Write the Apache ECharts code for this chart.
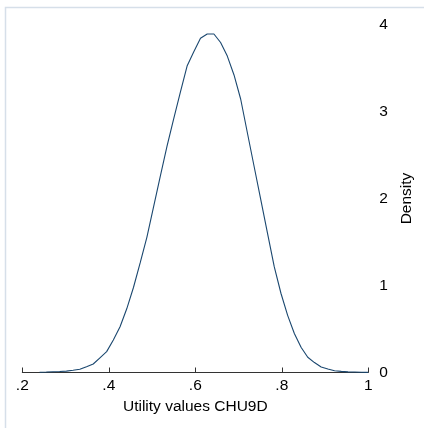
<!DOCTYPE html>
<html>
<head>
<meta charset="utf-8">
<script src="https://cdn.jsdelivr.net/npm/echarts@6/dist/echarts.min.js"></script>
<style>
  html, body { margin: 0; padding: 0; background: #fff; }
  #chart { width: 424px; height: 428px; }
</style>
</head>
<body>
<div id="chart"></div>
<script>
// kernel density estimate, 50 evaluation points from .24 to 1
const xStart = 0.24
const xStep = 0.0155
const density = [
  0.003, 0.005, 0.008, 0.011, 0.016, 0.025, 0.037, 0.067, 0.098, 0.169,
  0.240, 0.374, 0.526, 0.732, 0.977, 1.259, 1.554, 1.903, 2.253, 2.600,
  2.916, 3.223, 3.522, 3.686, 3.842, 3.891, 3.891, 3.793, 3.637, 3.420,
  3.141, 2.753, 2.368, 1.983, 1.598, 1.216, 0.911, 0.657, 0.449, 0.291,
  0.175, 0.114, 0.063, 0.040, 0.020, 0.013, 0.007, 0.005, 0.003, 0.002
]
const xTicks = [0.2, 0.4, 0.6, 0.8, 1]
const xTickLabels = ['.2', '.4', '.6', '.8', '1']
const yTicks = [0, 1, 2, 3, 4]

const points = density.map((d, i) => [xStart + i * xStep, d])
const font = '"Liberation Sans", Arial, sans-serif'
const fs = 15.5

const chart = echarts.init(document.getElementById('chart'))
chart.setOption({
  animation: false,
  backgroundColor: '#fff',
  textStyle: { fontFamily: font },
  graphic: [
    {
      type: 'rect',
      shape: { x: 5.5, y: 7.5, width: 440, height: 440 },
      style: { fill: 'none', stroke: '#d6dfe9', lineWidth: 1.5 },
      silent: true
    }
  ],
  grid: {
    left: 22.3,
    right: 55.7,
    top: 24.5,
    bottom: 55.5
  },
  xAxis: {
    type: 'value',
    min: xTicks[0],
    max: xTicks[xTicks.length - 1],
    interval: 0.2,
    offset: 3.5,
    name: 'Utility values CHU9D',
    nameLocation: 'middle',
    nameGap: 18,
    nameTextStyle: { color: '#000', fontSize: fs, fontFamily: font },
    axisLine: { lineStyle: { color: '#333', width: 1 } },
    axisTick: { inside: true, length: 5, lineStyle: { color: '#333' } },
    axisLabel: {
      margin: 1.5,
      color: '#000',
      fontSize: fs,
      fontFamily: font,
      formatter: v => {
        const k = xTicks.findIndex(t => Math.abs(t - v) < 1e-6)
        return k >= 0 ? xTickLabels[k] : ''
      }
    },
    splitLine: { show: false }
  },
  yAxis: {
    type: 'value',
    position: 'right',
    min: yTicks[0],
    max: yTicks[yTicks.length - 1],
    interval: 1,
    name: 'Density',
    nameLocation: 'middle',
    nameRotate: 90,
    nameGap: 25,
    nameTextStyle: { color: '#000', fontSize: fs, fontFamily: font },
    axisLine: { show: false },
    axisTick: { show: false },
    axisLabel: { margin: 11, color: '#000', fontSize: fs, fontFamily: font },
    splitLine: { show: false }
  },
  series: [
    {
      type: 'line',
      data: points,
      showSymbol: false,
      smooth: false,
      lineStyle: { color: '#1a476f', width: 1.1 },
      silent: true
    }
  ]
})
</script>
</body>
</html>
